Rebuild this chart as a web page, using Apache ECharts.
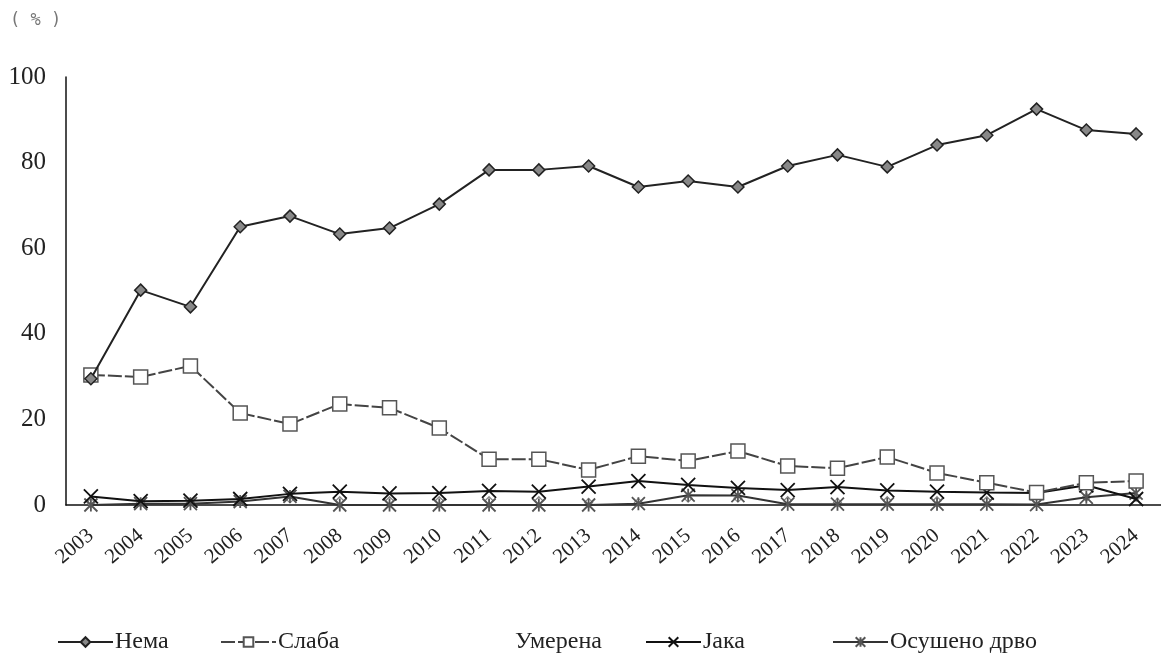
<!DOCTYPE html>
<html><head><meta charset="utf-8">
<script src="https://cdn.jsdelivr.net/npm/echarts@6/dist/echarts.min.js"></script>
<style>html,body{margin:0;padding:0;background:#fff}#c{width:1161px;height:669px}</style>
</head><body><div id="c"></div>
<script>
const years = ['2003','2004','2005','2006','2007','2008','2009','2010','2011','2012','2013','2014','2015','2016','2017','2018','2019','2020','2021','2022','2023','2024'];
const nema = [29.5,50.2,46.3,65.0,67.5,63.3,64.7,70.3,78.3,78.3,79.2,74.3,75.7,74.3,79.2,81.8,79.0,84.1,86.4,92.5,87.6,86.7];
const slaba = [30.4,29.9,32.5,21.5,18.9,23.6,22.7,18.0,10.7,10.7,8.2,11.4,10.3,12.6,9.1,8.6,11.2,7.5,5.2,2.9,5.2,5.6];
const umerena = [0.6,0.5,0.6,0.8,1.4,1.0,1.0,1.0,1.0,1.0,0.6,0.6,1.6,1.6,1.0,0.6,1.0,1.0,1.0,1.2,1.8,1.8];
const jaka = [2.0,0.9,1.0,1.4,2.6,3.1,2.7,2.8,3.3,3.1,4.3,5.6,4.7,4.0,3.5,4.2,3.4,3.1,2.9,2.8,4.6,1.4];
const osuseno = [0.0,0.3,0.3,0.8,2.0,0.0,0.0,0.0,0.0,0.0,0.0,0.3,2.3,2.2,0.2,0.2,0.2,0.2,0.2,0.1,1.8,2.8];
const yTicks = [0,20,40,60,80,100];
const names = ['Нема','Слаба','Умерена','Јака','Осушено дрво'];

const serif = '"Liberation Serif", "DejaVu Serif", serif';
const chart = echarts.init(document.getElementById('c'));
const xPath = 'path://M0,0L10,10M10,0L0,10';
const starPath = 'path://M0,0L10,10M10,0L0,10M5,0L5,10';
const legendPos = [52, 215, 452, 640, 827];
chart.setOption({
  animation:false,
  backgroundColor:'#fff',
  graphic:[{type:'text', left:10, top:12, style:{text:'( % )', font:'17px "DejaVu Sans Mono", monospace', fill:'#777'}}],
  grid:{left:66, right:-5, top:77, bottom:164},
  legend: names.map((n,i)=>({
    data:[n], left:legendPos[i], top:625, itemWidth:55, itemHeight:12, itemGap:0,
    textStyle:{fontFamily:serif, fontSize:24, color:'#222', padding:[0,0,0,-3]},
    ...(n==='Умерена'?{icon:'rect', itemStyle:{opacity:0}, lineStyle:{opacity:0}}:{})
  })),
  xAxis:{type:'category', data:years, boundaryGap:true,
    axisLine:{lineStyle:{color:'#111', width:1.5}}, axisTick:{show:false},
    axisLabel:{rotate:40, margin:28, fontFamily:serif, fontSize:21, color:'#222', interval:0}},
  yAxis:{type:'value', min:0, max:100, interval:20,
    axisLine:{show:true, lineStyle:{color:'#111', width:1.5}}, axisTick:{show:false}, splitLine:{show:false},
    axisLabel:{margin:20, fontFamily:serif, fontSize:25, color:'#222',
      formatter:v=>yTicks.includes(v)?String(v):''}},
  series:[
    {name:'Умерена', type:'line', data:umerena, symbol:'diamond', symbolSize:8,
      lineStyle:{opacity:0}, itemStyle:{color:'#fff', borderColor:'#888', borderWidth:1.2}, z:1},
    {name:'Осушено дрво', type:'line', data:osuseno, symbol:starPath, symbolSize:13,
      lineStyle:{color:'#333', width:2}, itemStyle:{color:'#555', borderColor:'#555', borderWidth:1.8}, z:2},
    {name:'Јака', type:'line', data:jaka, symbol:xPath, symbolSize:14,
      lineStyle:{color:'#111', width:2}, itemStyle:{color:'#111', borderColor:'#111', borderWidth:1.8}, z:3},
    {name:'Слаба', type:'line', data:slaba, symbol:'rect', symbolSize:14,
      lineStyle:{color:'#444', width:2, type:[14,3]}, itemStyle:{color:'#fff', borderColor:'#555', borderWidth:1.5}, z:4},
    {name:'Нема', type:'line', data:nema, symbol:'diamond', symbolSize:12,
      lineStyle:{color:'#222', width:2}, itemStyle:{color:'#888', borderColor:'#222', borderWidth:1.5}, z:5}
  ]
});
</script></body></html>
